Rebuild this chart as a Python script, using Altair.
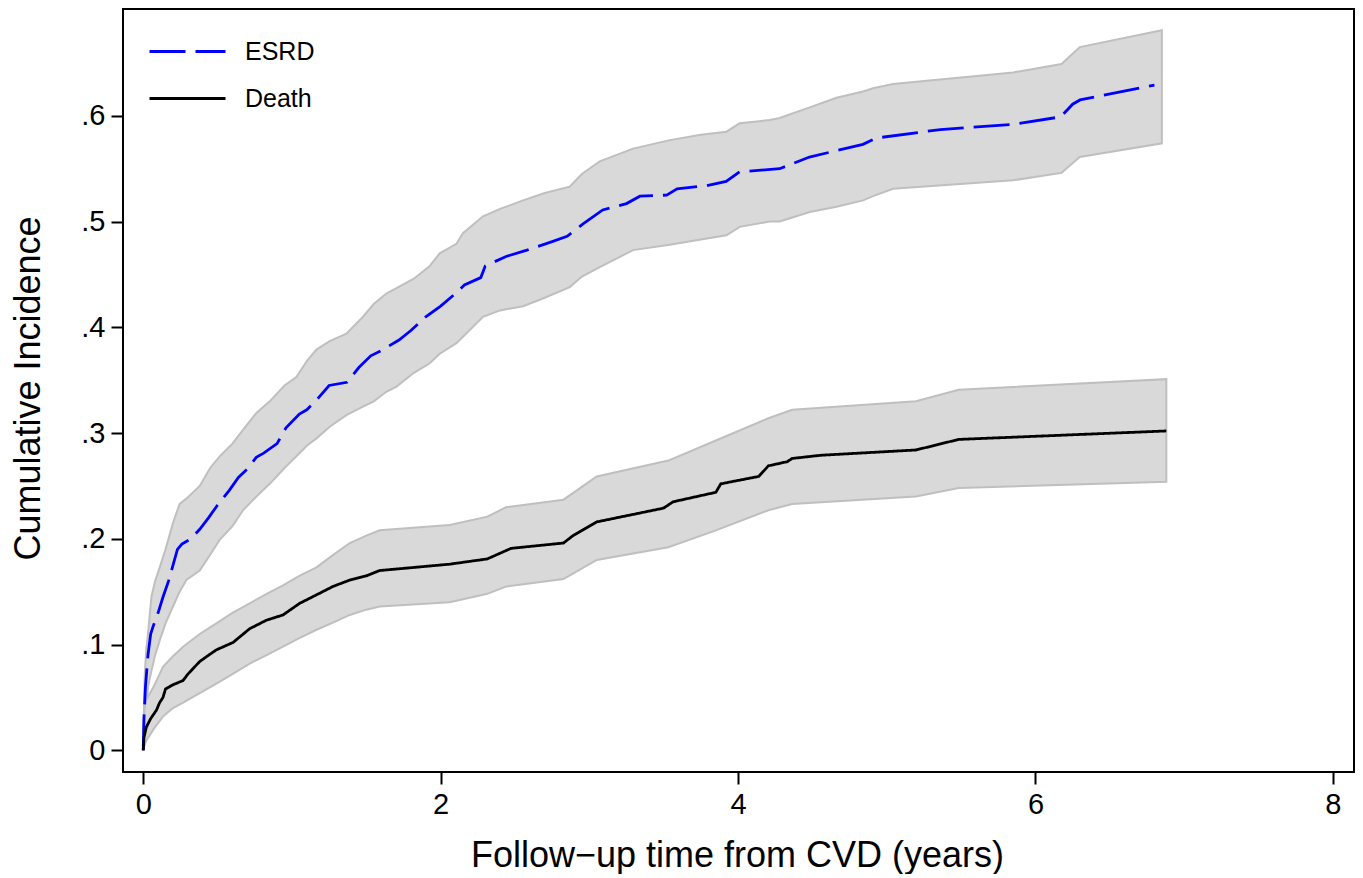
import altair as alt
import pandas as pd

# ---------------- data ----------------
outcomes = ["ESRD", "Death"]

# ESRD cumulative incidence (line)
esrd_t = [0, 0.005, 0.015, 0.032, 0.05, 0.066, 0.1, 0.133, 0.17, 0.2, 0.23, 0.26, 0.32, 0.38,
          0.44, 0.5, 0.58, 0.64, 0.7, 0.76, 0.81, 0.9, 0.96, 1.05, 1.1, 1.17, 1.25, 1.37, 1.45,
          1.53, 1.6, 1.72, 1.8, 1.9, 2.0, 2.1, 2.16, 2.27, 2.3, 2.44, 2.58, 2.75, 2.85, 2.96,
          3.09, 3.25, 3.34, 3.52, 3.59, 3.79, 3.92, 4.01, 4.28, 4.48, 4.84, 4.93, 5.36, 5.85,
          6.17, 6.25, 6.3, 6.8]
esrd_ci = [0, 0.03, 0.06, 0.09, 0.11, 0.117, 0.13, 0.145, 0.16, 0.175, 0.19, 0.195, 0.2, 0.209,
           0.22, 0.232, 0.246, 0.258, 0.266, 0.277, 0.281, 0.29, 0.305, 0.318, 0.322, 0.332,
           0.345, 0.348, 0.362, 0.373, 0.378, 0.388, 0.397, 0.41, 0.42, 0.432, 0.44, 0.447,
           0.458, 0.467, 0.473, 0.481, 0.486, 0.498, 0.511, 0.517, 0.524, 0.525, 0.531, 0.534,
           0.538, 0.547, 0.550, 0.561, 0.573, 0.579, 0.587, 0.592, 0.599, 0.611, 0.615, 0.629]

# ESRD confidence band
esrd_band_t = [0, 0.01, 0.02, 0.032, 0.055, 0.08, 0.111, 0.15, 0.2, 0.245, 0.29, 0.38, 0.45,
               0.514, 0.6, 0.671, 0.761, 0.851, 0.95, 1.03, 1.1, 1.165, 1.254, 1.366, 1.478,
               1.55, 1.635, 1.703, 1.82, 1.927, 1.994, 2.106, 2.15, 2.285, 2.4, 2.554, 2.7,
               2.868, 2.95, 3.07, 3.294, 3.541, 3.75, 3.922, 4.011, 4.213, 4.28, 4.482, 4.662,
               4.841, 4.908, 5.042, 5.85, 6.175, 6.298, 6.85]
esrd_upper = [0.01, 0.07, 0.095, 0.11, 0.145, 0.16, 0.173, 0.19, 0.215, 0.233, 0.238, 0.25,
              0.267, 0.278, 0.29, 0.303, 0.319, 0.33, 0.345, 0.353, 0.368, 0.379, 0.387, 0.394,
              0.41, 0.422, 0.432, 0.437, 0.446, 0.458, 0.47, 0.479, 0.489, 0.505, 0.512, 0.52,
              0.527, 0.533, 0.545, 0.557, 0.569, 0.577, 0.582, 0.585, 0.593, 0.596, 0.598,
              0.608, 0.617, 0.623, 0.626, 0.630, 0.641, 0.649, 0.665, 0.681]
esrd_lower = [0, 0.016, 0.035, 0.06, 0.075, 0.09, 0.104, 0.12, 0.136, 0.15, 0.161, 0.170,
              0.185, 0.199, 0.212, 0.227, 0.24, 0.252, 0.267, 0.278, 0.288, 0.295, 0.306,
              0.317, 0.325, 0.33, 0.339, 0.344, 0.357, 0.366, 0.375, 0.385, 0.391, 0.410,
              0.416, 0.420, 0.428, 0.438, 0.448, 0.457, 0.473, 0.478, 0.483, 0.487, 0.495,
              0.500, 0.500, 0.509, 0.514, 0.520, 0.524, 0.531, 0.539, 0.546, 0.561, 0.574]

# Death cumulative incidence (line)
death_t = [0, 0.005, 0.021, 0.05, 0.089, 0.11, 0.133, 0.15, 0.2, 0.268, 0.3, 0.38, 0.44, 0.492,
           0.604, 0.716, 0.828, 0.94, 1.052, 1.165, 1.277, 1.389, 1.501, 1.59, 2.06, 2.314,
           2.474, 2.826, 2.89, 3.05, 3.499, 3.563, 3.851, 3.884, 4.139, 4.204, 4.332, 4.364,
           4.556, 5.196, 5.484, 6.88]
death_ci = [0, 0.012, 0.022, 0.03, 0.038, 0.045, 0.05, 0.058, 0.062, 0.066, 0.072, 0.084, 0.09,
            0.095, 0.102, 0.115, 0.123, 0.128, 0.139, 0.147, 0.155, 0.161, 0.165, 0.170, 0.176,
            0.181, 0.191, 0.196, 0.203, 0.216, 0.229, 0.235, 0.244, 0.252, 0.259, 0.269, 0.273,
            0.276, 0.279, 0.284, 0.294, 0.302]

# Death confidence band
death_band_t = [0, 0.01, 0.021, 0.07, 0.133, 0.2, 0.268, 0.38, 0.492, 0.6, 0.716, 0.83, 0.94,
                1.05, 1.165, 1.28, 1.389, 1.5, 1.59, 2.061, 2.314, 2.443, 2.826, 3.05, 3.531,
                3.851, 4.204, 4.364, 5.196, 5.484, 6.88]
death_upper = [0.02, 0.041, 0.048, 0.06, 0.079, 0.089, 0.098, 0.11, 0.12, 0.13, 0.139, 0.148,
               0.156, 0.165, 0.173, 0.185, 0.196, 0.203, 0.208, 0.213, 0.221, 0.230, 0.237,
               0.259, 0.274, 0.293, 0.314, 0.322, 0.330, 0.341, 0.351]
death_lower = [0, 0.005, 0.009, 0.02, 0.032, 0.04, 0.045, 0.054, 0.063, 0.072, 0.082, 0.09,
               0.098, 0.106, 0.114, 0.121, 0.128, 0.133, 0.136, 0.140, 0.148, 0.155, 0.162,
               0.180, 0.192, 0.208, 0.227, 0.233, 0.240, 0.248, 0.254]

x_ticks = [0, 2, 4, 6, 8]
y_ticks = [0, 0.1, 0.2, 0.3, 0.4, 0.5, 0.6]

# ---------------- tables ----------------
lines = pd.concat([
    pd.DataFrame({"t": esrd_t, "ci": esrd_ci, "outcome": "ESRD"}),
    pd.DataFrame({"t": death_t, "ci": death_ci, "outcome": "Death"}),
], ignore_index=True)

bands = pd.concat([
    pd.DataFrame({"t": esrd_band_t, "lo": esrd_lower, "hi": esrd_upper, "band": "ESRD"}),
    pd.DataFrame({"t": death_band_t, "lo": death_lower, "hi": death_upper, "band": "Death"}),
], ignore_index=True)

FONT = "Liberation Sans"

x_scale = alt.Scale(domain=[-0.136, 8.142], nice=False, zero=False)
y_scale = alt.Scale(domain=[-0.0205, 0.701], nice=False, zero=False)

x_axis = alt.Axis(
    values=x_ticks, format="d", grid=False, domain=False,
    title="Follow\u2212up time from CVD (years)",
    ticks=True, tickColor="black", tickWidth=2, tickSize=12,
    labelFont=FONT, labelFontSize=29, labelColor="black", labelPadding=6,
    titleFont=FONT, titleFontSize=36, titleFontWeight="normal", titleColor="black",
    titleX=614, titleY=94, titleAlign="center", titleBaseline="alphabetic",
)
y_axis = alt.Axis(
    values=y_ticks, grid=False, domain=False,
    labelExpr="datum.value == 0 ? '0' : substring(format(datum.value, '.1f'), 1)",
    title="Cumulative Incidence",
    ticks=True, tickColor="black", tickWidth=2, tickSize=12,
    labelFont=FONT, labelFontSize=29, labelColor="black", labelPadding=6, labelAngle=0,
    titleFont=FONT, titleFontSize=36, titleFontWeight="normal", titleColor="black",
    titleAngle=270, titleX=-84, titleY=379, titleAlign="center", titleBaseline="alphabetic",
)

band_layer = alt.Chart(bands).mark_area(
    fill="#d9d9d9", stroke="#bfbfbf", strokeWidth=2, opacity=1
).encode(
    x=alt.X("t:Q", scale=x_scale, axis=x_axis),
    y=alt.Y("lo:Q", scale=y_scale, axis=y_axis),
    y2="hi:Q",
    detail="band:N",
)

legend = alt.Legend(
    title=None, orient="none", legendX=25, legendY=30, padding=0,
    symbolType="stroke", symbolSize=5776, symbolStrokeWidth=3, clipHeight=25,
    labelFont=FONT, labelFontSize=25, labelColor="black", labelOffset=18,
    rowPadding=21,
)

line_layer = alt.Chart(lines).mark_line(strokeWidth=2.8).encode(
    x=alt.X("t:Q", scale=x_scale, axis=x_axis),
    y=alt.Y("ci:Q", scale=y_scale, axis=y_axis),
    color=alt.Color("outcome:N",
                    scale=alt.Scale(domain=outcomes, range=["#0000ff", "#000000"]),
                    legend=legend),
    strokeDash=alt.StrokeDash("outcome:N",
                              scale=alt.Scale(domain=outcomes, range=[[36, 10], [1, 0]]),
                              legend=legend),
)

chart = alt.layer(band_layer, line_layer).properties(
    width=1231, height=763,
    autosize=alt.AutoSizeParams(type="none"),
    padding={"left": 115, "top": 1, "right": 1, "bottom": 102},
).configure(
    font=FONT, background="white",
    view=alt.ViewConfig(stroke="black", strokeWidth=2),
)

chart.save("out.html", embed_options={"renderer": "svg", "actions": False})
